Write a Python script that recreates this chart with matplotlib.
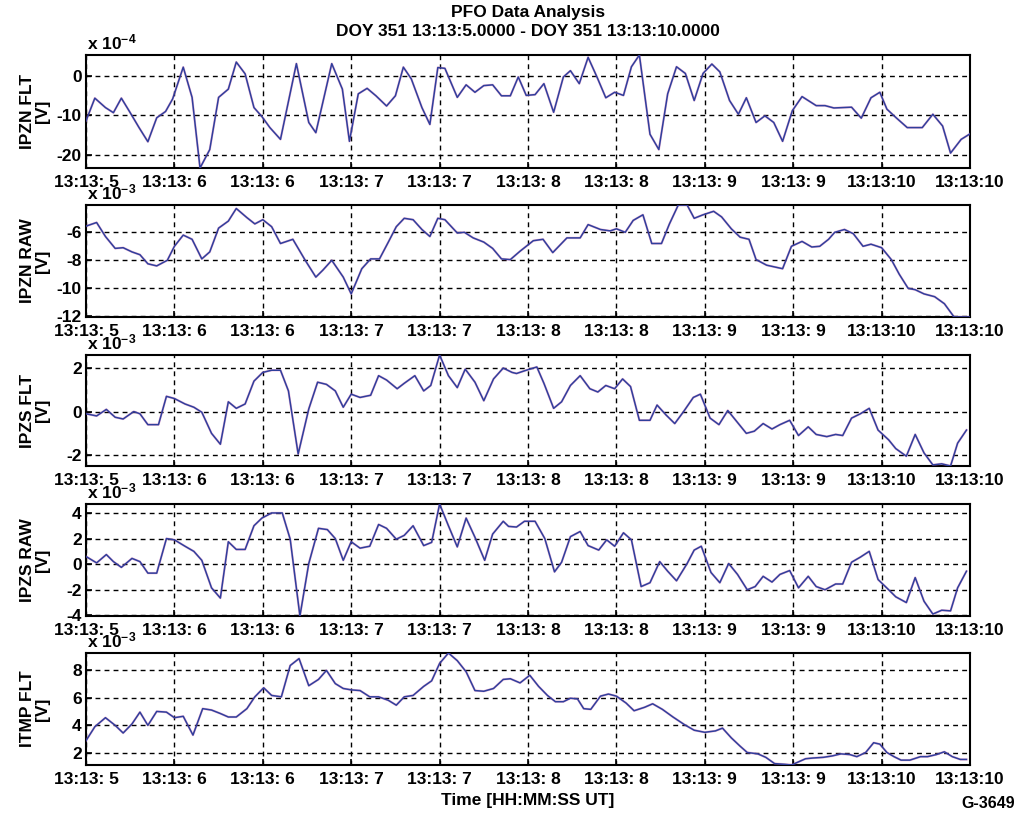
import numpy as np
import matplotlib
matplotlib.use("Agg")
import matplotlib.pyplot as plt
from matplotlib.ticker import MultipleLocator, FuncFormatter

plt.rcParams["font.family"] = ["Liberation Sans", "DejaVu Sans"]
plt.rcParams["font.weight"] = "bold"
plt.rcParams["mathtext.fontset"] = "custom"
plt.rcParams["mathtext.rm"] = "Liberation Sans:bold"
plt.rcParams["mathtext.it"] = "Liberation Sans:bold"
plt.rcParams["mathtext.bf"] = "Liberation Sans:bold"
plt.rcParams["axes.unicode_minus"] = False

# ---- sample times (seconds after 13:13:00) and channel values ----
# IPZN FLT, units of 1e-4 V
t_ipzn_flt = [5.0, 5.05, 5.11, 5.155, 5.20, 5.25, 5.30, 5.35, 5.40, 5.45, 5.49, 5.55, 5.60, 5.645,
              5.70, 5.75, 5.805, 5.85, 5.90, 5.95, 5.995, 6.04, 6.10, 6.19, 6.26, 6.30, 6.39, 6.45,
              6.49, 6.54, 6.59, 6.64, 6.70, 6.75, 6.795, 6.84, 6.90, 6.945, 6.99, 7.03, 7.10, 7.15,
              7.20, 7.25, 7.30, 7.35, 7.40, 7.445, 7.49, 7.54, 7.59, 7.645, 7.70, 7.74, 7.79, 7.84,
              7.89, 7.94, 7.99, 8.04, 8.085, 8.13, 8.19, 8.24, 8.29, 8.34, 8.39, 8.44, 8.49, 8.54,
              8.585, 8.64, 8.69, 8.735, 8.79, 8.84, 8.89, 8.94, 8.995, 9.05, 9.13, 9.18, 9.23, 9.33,
              9.385, 9.44, 9.49, 9.53, 9.58, 9.645, 9.73, 9.79, 9.845, 9.89, 9.95, 10.0]
ipzn_flt = [-11.4, -5.6, -8.0, -9.3, -5.6, -9.3, -13.1, -16.7, -10.6, -9.0, -5.8, 2.3, -5.4, -23.4,
            -18.7, -5.4, -3.3, 3.6, 0.6, -8.0, -10.3, -13.1, -16.1, 3.2, -11.8, -14.4, 3.2, -3.3,
            -16.6, -4.5, -3.1, -5.0, -7.6, -5.0, 2.3, -0.7, -8.0, -12.3, 2.2, 2.0, -5.4, -2.2,
            -4.1, -2.4, -2.2, -5.0, -5.0, -0.2, -4.9, -4.7, -1.9, -9.2, -0.2, 1.4, -1.9, 4.8,
            -0.2, -5.5, -4.1, -4.9, 2.4, 5.4, -14.8, -18.7, -4.5, 2.4, 0.7, -6.2, 0.7, 3.1,
            1.1, -6.2, -9.7, -5.5, -11.8, -10.1, -11.8, -16.6, -8.8, -5.2, -7.5, -7.5, -8.1, -7.9,
            -10.7, -5.5, -4.1, -8.4, -10.5, -13.1, -13.1, -9.7, -12.7, -19.6, -16.1, -14.7]

# IPZN RAW, units of 1e-3 V
t_ipzn_raw = [5.0, 5.06, 5.11, 5.165, 5.21, 5.26, 5.305, 5.35, 5.40, 5.46, 5.50, 5.55, 5.60, 5.655,
              5.70, 5.75, 5.805, 5.85, 5.91, 5.955, 6.0, 6.05, 6.10, 6.17, 6.24, 6.30, 6.34, 6.39,
              6.455, 6.50, 6.56, 6.61, 6.66, 6.71, 6.755, 6.80, 6.85, 6.90, 6.945, 6.99, 7.03, 7.10,
              7.14, 7.19, 7.25, 7.30, 7.35, 7.40, 7.455, 7.53, 7.585, 7.64, 7.72, 7.795, 7.84, 7.91,
              7.965, 8.0, 8.05, 8.095, 8.15, 8.20, 8.255, 8.30, 8.35, 8.40, 8.44, 8.49, 8.55, 8.595,
              8.65, 8.70, 8.75, 8.79, 8.85, 8.94, 8.99, 9.05, 9.105, 9.15, 9.20, 9.235, 9.29, 9.34,
              9.395, 9.44, 9.50, 9.555, 9.60, 9.65, 9.69, 9.74, 9.80, 9.855, 9.91, 10.0]
ipzn_raw = [-5.56, -5.3, -6.3, -7.15, -7.1, -7.4, -7.6, -8.25, -8.4, -8.0, -7.0, -6.2, -6.5, -7.9,
            -7.4, -5.7, -5.2, -4.3, -4.95, -5.4, -5.1, -5.6, -6.8, -6.5, -8.0, -9.2, -8.7, -8.0,
            -9.2, -10.4, -8.6, -7.9, -7.9, -6.7, -5.6, -5.0, -5.1, -5.8, -6.3, -5.0, -5.1, -6.05,
            -6.0, -6.4, -6.7, -7.15, -7.9, -7.95, -7.35, -6.6, -6.5, -7.45, -6.4, -6.4, -5.45, -5.8,
            -5.9, -5.75, -6.0, -5.15, -4.75, -6.8, -6.8, -5.4, -4.05, -4.05, -5.0, -4.75, -4.5, -4.9,
            -5.75, -6.35, -6.5, -7.95, -8.35, -8.6, -7.0, -6.65, -7.05, -7.0, -6.5, -6.0, -5.8, -6.1,
            -7.0, -6.85, -7.1, -7.95, -9.0, -10.0, -10.1, -10.4, -10.6, -11.1, -12.05, -12.05]

# IPZS FLT, units of 1e-3 V
t_ipzs_flt = [5.0, 5.06, 5.115, 5.165, 5.21, 5.27, 5.305, 5.35, 5.41, 5.455, 5.50, 5.56, 5.61, 5.655,
              5.71, 5.76, 5.805, 5.85, 5.90, 5.95, 6.0, 6.05, 6.10, 6.145, 6.20, 6.26, 6.31, 6.36,
              6.41, 6.455, 6.50, 6.55, 6.61, 6.655, 6.70, 6.76, 6.80, 6.86, 6.91, 6.95, 7.0, 7.05,
              7.10, 7.145, 7.20, 7.25, 7.305, 7.36, 7.41, 7.435, 7.49, 7.55, 7.59, 7.645, 7.69, 7.74,
              7.795, 7.85, 7.895, 7.94, 7.99, 8.035, 8.08, 8.13, 8.19, 8.23, 8.28, 8.33, 8.38, 8.435,
              8.475, 8.53, 8.58, 8.63, 8.68, 8.735, 8.78, 8.83, 8.88, 8.925, 8.98, 9.03, 9.085, 9.13,
              9.19, 9.24, 9.28, 9.33, 9.38, 9.43, 9.48, 9.54, 9.58, 9.64, 9.69, 9.74, 9.79, 9.84,
              9.89, 9.93, 9.98]
ipzs_flt = [-0.1, -0.2, 0.1, -0.26, -0.34, 0.0, -0.1, -0.6, -0.6, 0.7, 0.6, 0.35, 0.2, -0.03,
            -1.0, -1.5, 0.45, 0.15, 0.35, 1.4, 1.8, 1.9, 1.9, 0.95, -1.95, 0.12, 1.35, 1.25,
            0.95, 0.2, 0.8, 0.65, 0.75, 1.65, 1.45, 1.05, 1.3, 1.65, 0.95, 1.2, 2.6, 1.65,
            1.1, 1.95, 1.35, 0.5, 1.5, 2.0, 1.8, 1.75, 1.9, 2.05, 1.3, 0.15, 0.45, 1.2,
            1.65, 1.05, 0.9, 1.2, 1.05, 1.5, 1.15, -0.4, -0.4, 0.3, -0.15, -0.55, 0.0, 0.65,
            0.8, -0.3, -0.6, 0.05, -0.45, -1.0, -0.9, -0.55, -0.8, -0.6, -0.4, -1.1, -0.7, -1.05,
            -1.15, -1.05, -1.1, -0.3, -0.1, 0.15, -0.85, -1.3, -1.7, -2.05, -1.05, -1.9, -2.45, -2.4,
            -2.5, -1.45, -0.85]

# IPZS RAW, units of 1e-3 V
t_ipzs_raw = [5.0, 5.06, 5.115, 5.155, 5.20, 5.26, 5.305, 5.35, 5.40, 5.455, 5.50, 5.56, 5.61, 5.655,
              5.71, 5.76, 5.805, 5.85, 5.90, 5.95, 5.995, 6.05, 6.11, 6.155, 6.21, 6.26, 6.315, 6.365,
              6.41, 6.455, 6.50, 6.55, 6.605, 6.655, 6.70, 6.755, 6.80, 6.85, 6.91, 6.955, 7.0, 7.05,
              7.10, 7.15, 7.20, 7.255, 7.30, 7.36, 7.39, 7.435, 7.48, 7.54, 7.595, 7.65, 7.69, 7.74,
              7.795, 7.84, 7.90, 7.945, 7.99, 8.04, 8.085, 8.14, 8.19, 8.245, 8.29, 8.34, 8.40, 8.44,
              8.48, 8.535, 8.585, 8.635, 8.685, 8.74, 8.785, 8.83, 8.88, 8.925, 8.98, 9.03, 9.085, 9.13,
              9.18, 9.24, 9.28, 9.33, 9.38, 9.43, 9.48, 9.54, 9.58, 9.64, 9.69, 9.74, 9.79, 9.84,
              9.89, 9.93, 9.98]
ipzs_raw = [0.6, 0.1, 0.75, 0.2, -0.25, 0.45, 0.2, -0.7, -0.7, 2.0, 1.9, 1.4, 1.0, 0.3,
            -1.85, -2.65, 1.75, 1.15, 1.15, 3.0, 3.6, 4.0, 4.0, 1.95, -4.05, 0.05, 2.8, 2.7,
            2.0, 0.3, 1.75, 1.25, 1.4, 3.1, 2.8, 1.95, 2.25, 3.0, 1.45, 1.7, 4.7, 3.0,
            1.35, 3.6, 2.1, 0.3, 2.35, 3.35, 2.95, 2.9, 3.35, 3.35, 2.0, -0.6, 0.15, 2.15,
            2.55, 1.45, 1.1, 1.9, 1.4, 2.45, 1.9, -1.75, -1.45, 0.2, -0.55, -1.3, 0.05, 1.1,
            1.4, -0.65, -1.45, 0.05, -0.8, -2.0, -1.75, -0.95, -1.4, -0.8, -0.5, -1.85, -0.95, -1.75,
            -2.0, -1.55, -1.55, 0.15, 0.55, 1.0, -1.2, -2.0, -2.55, -3.0, -1.05, -2.9, -3.9, -3.6,
            -3.65, -1.85, -0.55]

# ITMP FLT, units of 1e-3 V
t_itmp_flt = [5.0, 5.05, 5.11, 5.165, 5.21, 5.26, 5.305, 5.35, 5.40, 5.455, 5.50, 5.55, 5.605, 5.66,
              5.71, 5.76, 5.805, 5.85, 5.91, 5.955, 6.005, 6.05, 6.105, 6.155, 6.205, 6.26, 6.315, 6.36,
              6.41, 6.455, 6.50, 6.55, 6.605, 6.655, 6.71, 6.755, 6.80, 6.85, 6.91, 6.955, 7.0, 7.05,
              7.10, 7.15, 7.20, 7.25, 7.305, 7.36, 7.40, 7.455, 7.51, 7.56, 7.61, 7.655, 7.70, 7.74,
              7.78, 7.815, 7.855, 7.91, 7.955, 8.0, 8.055, 8.10, 8.16, 8.205, 8.26, 8.32, 8.385, 8.44,
              8.50, 8.56, 8.60, 8.65, 8.70, 8.74, 8.80, 8.845, 8.895, 8.95, 8.99, 9.07, 9.11, 9.17,
              9.22, 9.27, 9.32, 9.36, 9.41, 9.455, 9.49, 9.53, 9.57, 9.61, 9.66, 9.72, 9.76, 9.81,
              9.855, 9.90, 9.945, 9.98]
itmp_flt = [2.9, 3.9, 4.55, 4.0, 3.45, 4.1, 4.95, 4.0, 5.0, 4.95, 4.55, 4.65, 3.3, 5.2,
            5.1, 4.85, 4.6, 4.6, 5.2, 6.05, 6.7, 6.15, 6.05, 8.3, 8.8, 6.85, 7.3, 7.95,
            7.0, 6.65, 6.55, 6.5, 6.05, 6.05, 5.8, 5.45, 6.05, 6.15, 6.8, 7.2, 8.45, 9.2,
            8.65, 7.85, 6.5, 6.45, 6.65, 7.3, 7.35, 7.05, 7.6, 6.8, 6.15, 5.7, 5.7, 5.95,
            5.9, 5.2, 5.15, 6.1, 6.25, 6.1, 5.6, 5.05, 5.3, 5.55, 5.15, 4.6, 4.05, 3.65,
            3.5, 3.6, 3.8, 3.1, 2.5, 2.05, 1.95, 1.7, 1.25, 1.2, 1.15, 1.6, 1.65, 1.7,
            1.8, 1.95, 1.9, 1.75, 2.05, 2.75, 2.65, 2.05, 1.75, 1.5, 1.5, 1.75, 1.75, 1.9,
            2.1, 1.75, 1.55, 1.55]

channels = ["IPZN FLT", "IPZN RAW", "IPZS FLT", "IPZS RAW", "ITMP FLT"]
exponents = [-4, -3, -3, -3, -3]
ytick_steps = [10, 2, 2, 2, 2]
series = [(t_ipzn_flt, ipzn_flt), (t_ipzn_raw, ipzn_raw), (t_ipzs_flt, ipzs_flt),
          (t_ipzs_raw, ipzs_raw), (t_itmp_flt, itmp_flt)]

# ---- figure layout (pixel boxes on a 1021 x 816 canvas) ----
W, H = 1021, 816
fig = plt.figure(figsize=(W / 100, H / 100), dpi=100)
left_px, right_px = 86, 970
boxes = [(55, 168), (205, 317), (355, 466), (504, 616), (653, 765)]

def time_label(x, pos):
    return "13:13:%2d" % int(np.floor(x + 0.5 + 1e-9))

for (top, bot), name, ex, step, (t, v) in zip(boxes, channels, exponents, ytick_steps, series):
    ax = fig.add_axes([left_px / W, 1 - bot / H, (right_px - left_px) / W, (bot - top) / H])
    ax.plot(t, v, color="#d2449a", lw=1.7, alpha=0.35, zorder=3)
    ax.plot(t, v, color="#2f3f9c", lw=1.1, zorder=4)
    ax.set_xlim(5, 10)
    ax.set_ylim(min(v), max(v))
    ax.xaxis.set_major_locator(MultipleLocator(0.5))
    ax.xaxis.set_major_formatter(FuncFormatter(time_label))
    ax.yaxis.set_major_locator(MultipleLocator(step))
    ax.yaxis.set_major_formatter(FuncFormatter(lambda y, p: "%g" % y))
    ax.grid(True, color="black", linestyle=(0, (3.5, 3)), linewidth=1.0)
    ax.set_axisbelow(True)
    ax.tick_params(direction="in", length=4, width=1.2, labelsize=12.5, colors="black")
    ax.tick_params(axis="x", pad=5)
    ax.tick_params(axis="y", pad=3)
    for lab in ax.get_xticklabels() + ax.get_yticklabels():
        lab.set_fontweight("bold")
    for s in ax.spines.values():
        s.set_linewidth(1.5)
    ax.text(-0.058, 0.5, name + "\n[V]", transform=ax.transAxes, rotation=90,
            ha="center", va="center", fontsize=12.5, fontweight="bold",
            linespacing=1.0, multialignment="center")
    ax.annotate("x 10$^{%d}$" % ex, xy=(0, 1), xycoords="axes fraction",
                xytext=(1, 2), textcoords="offset points", ha="left", va="bottom",
                fontsize=12.5, fontweight="bold")

fig.text(528 / W, 1 - 13 / H, "PFO Data Analysis", ha="center", va="center",
         fontsize=12.5, fontweight="bold")
fig.text(528 / W, 1 - 32 / H, "DOY 351 13:13:5.0000 - DOY 351 13:13:10.0000",
         ha="center", va="center", fontsize=12.5, fontweight="bold")
fig.text(528 / W, 1 - 801 / H, "Time [HH:MM:SS UT]", ha="center", va="center",
         fontsize=12.5, fontweight="bold")
fig.text(1015 / W, 1 - 804 / H, "G-3649", ha="right", va="center",
         fontsize=11.5, fontweight="bold")

fig.savefig("out.png", dpi=100)
